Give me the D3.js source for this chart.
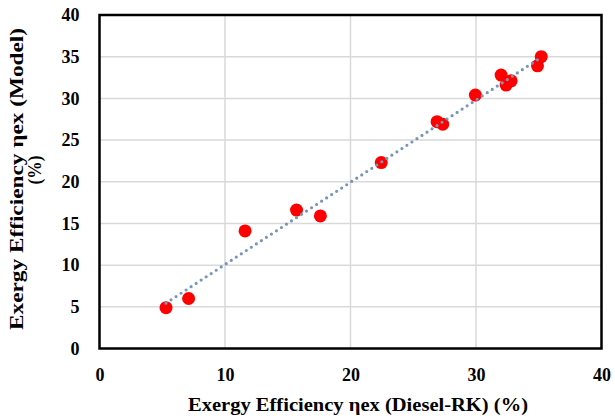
<!DOCTYPE html>
<html><head><meta charset="utf-8">
<script src="https://cdn.jsdelivr.net/npm/d3@7"></script>
<style>body{margin:0;background:#fff}svg{display:block}text{font-family:"Liberation Serif","Times New Roman",serif;font-weight:bold;fill:#000}</style>
</head><body>
<script>
const dieselRK = [5.3, 7.1, 11.6, 15.7, 17.6, 22.45, 26.9, 27.35, 29.95, 32.0, 32.4, 32.8, 35.2, 34.9];
const model    = [4.9, 6.0, 14.1, 16.6, 15.9, 22.3, 27.2, 26.9, 30.4, 32.8, 31.6, 32.1, 35.0, 33.9];
const xTicks = [0, 10, 20, 30, 40];
const yTicks = [0, 5, 10, 15, 20, 25, 30, 35, 40];
const xTitle = "Exergy Efficiency ηex (Diesel-RK)  (%)";
const yTitle1 = "Exergy Efficiency ηex (Model)";
const yTitle2 = "(%)";

const W = 615, H = 418;
const m = {l: 99.5, r: 601.5, t: 15, b: 348.5};
const svg = d3.select("body").append("svg").attr("width", W).attr("height", H);
const x = d3.scaleLinear().domain([0, 40]).range([m.l, m.r]);
const y = d3.scaleLinear().domain([0, 40]).range([m.b, m.t]);

// gridlines
svg.append("g").selectAll("line").data(xTicks.slice(1, -1)).join("line")
  .attr("x1", d => x(d)).attr("x2", d => x(d)).attr("y1", m.t).attr("y2", m.b)
  .attr("stroke", "#d9d9d9").attr("stroke-width", 1.5);
svg.append("g").selectAll("line").data(yTicks.slice(1, -1)).join("line")
  .attr("y1", d => y(d)).attr("y2", d => y(d)).attr("x1", m.l).attr("x2", m.r)
  .attr("stroke", "#d9d9d9").attr("stroke-width", 1.5);

// frame
svg.append("rect").attr("x", m.l).attr("y", m.t).attr("width", m.r - m.l).attr("height", m.b - m.t)
  .attr("fill", "none").attr("stroke", "#000").attr("stroke-width", 2.5);

// axes tick labels
const xAxis = d3.axisBottom(x).tickValues(xTicks).tickSize(0).tickPadding(20);
const gx = svg.append("g").attr("transform", `translate(0,${m.b})`).call(xAxis);
gx.select(".domain").remove();
gx.selectAll("text").attr("font-size", 18).attr("font-family", "Liberation Serif").attr("font-weight", "bold").attr("fill", "#000");

const yAxis = d3.axisLeft(y).tickValues(yTicks).tickSize(0).tickPadding(20);
const gy = svg.append("g").attr("transform", `translate(${m.l},0)`).call(yAxis);
gy.select(".domain").remove();
gy.selectAll("text").attr("font-size", 18).attr("font-family", "Liberation Serif").attr("font-weight", "bold").attr("fill", "#000");

// linear trend line (least squares from data)
const n = dieselRK.length;
const mx = d3.mean(dieselRK), my = d3.mean(model);
let sxy = 0, sxx = 0;
for (let i = 0; i < n; i++) { sxy += (dieselRK[i] - mx) * (model[i] - my); sxx += (dieselRK[i] - mx) ** 2; }
const slope = sxy / sxx, icpt = my - slope * mx;
const [xmin, xmax] = d3.extent(dieselRK);

// points
svg.append("g").selectAll("circle").data(dieselRK.map((d, i) => [d, model[i]])).join("circle")
  .attr("cx", d => x(d[0])).attr("cy", d => y(d[1])).attr("r", 6.5).attr("fill", "#ff0000");

svg.append("line")
  .attr("x1", x(xmin)).attr("y1", y(slope * xmin + icpt))
  .attr("x2", x(xmax)).attr("y2", y(slope * xmax + icpt))
  .attr("stroke", "#7895bb").attr("stroke-width", 3.2)
  .attr("stroke-linecap", "round").attr("stroke-dasharray", "0,6");

// titles
svg.append("text").attr("x", 358).attr("y", 411).attr("text-anchor", "middle")
  .attr("font-size", 19).attr("textLength", 340).attr("lengthAdjust", "spacingAndGlyphs").text(xTitle);
svg.append("text").attr("transform", `translate(23,179) rotate(-90)`)
  .attr("text-anchor", "middle").attr("font-size", 19)
  .attr("textLength", 302).attr("lengthAdjust", "spacingAndGlyphs").text(yTitle1);
svg.append("text").attr("transform", `translate(41,170) rotate(-90)`)
  .attr("text-anchor", "middle").attr("font-size", 19)
  .attr("textLength", 29).attr("lengthAdjust", "spacingAndGlyphs").text(yTitle2);
</script>
</body></html>
